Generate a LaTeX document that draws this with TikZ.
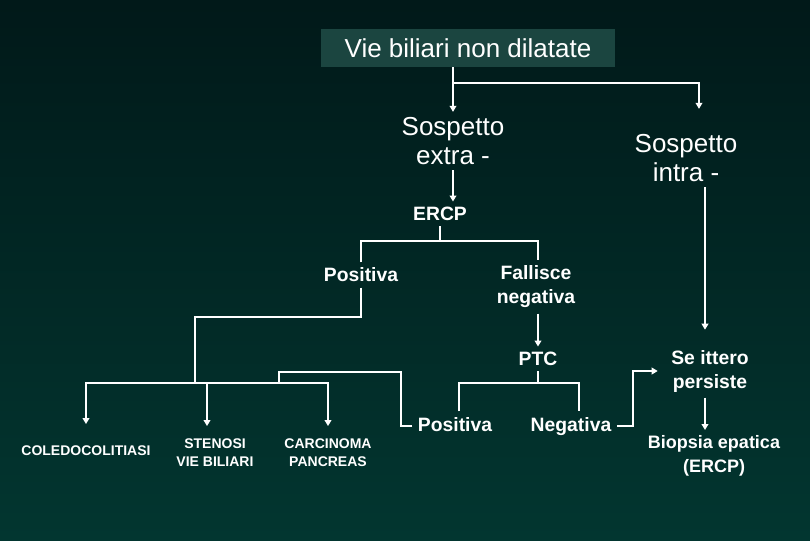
\documentclass[tikz,border=0pt]{standalone}
\usepackage{fontspec}
\setmainfont{Liberation Sans}
\usetikzlibrary{arrows.meta,calc,positioning}
\definecolor{bgtop}{RGB}{1,25,25}
\definecolor{bgbot}{RGB}{2,54,48}
\definecolor{boxfill}{RGB}{27,69,64}

\begin{document}
\begin{tikzpicture}[x=0.75pt,y=-0.75pt,
	every node/.style={text=white,align=center,inner sep=4pt},
	big/.style={font=\fontsize{19.5}{21.5}\selectfont},
	mid/.style={font=\bfseries\fontsize{14.5}{18}\selectfont},
	low/.style={font=\bfseries\fontsize{10.5}{13.5}\selectfont,minimum height=40pt},
	line/.style={draw=white,line width=1.5pt},
	arr/.style={line,-{Triangle[length=4.5pt,width=5pt]}}]
	\shade[top color=bgtop,bottom color=bgbot] (0,0) rectangle (810,540);
	\useasboundingbox (0,0) rectangle (810,540);
	\node[big,fill=boxfill,inner sep=0pt,minimum width=221pt,minimum height=28pt](vie) at (468,48) {Vie biliari non dilatate};
	\node[big](extra) at (453,141) {Sospetto\\extra -};
	\node[big](intra) at (686,158) {Sospetto\\intra -};
	\node[mid](ercp) at (440,214) {ERCP};
	\node[mid](pos1) at (361,275) {Positiva};
	\node[mid](fall) at (536,287) {Fallisce\\negativa};
	\node[mid](ptc) at (538,359) {PTC};
	\node[mid,text height=10.5pt,text depth=3pt](pos2) at (455,426) {Positiva};
	\node[mid,text height=10.5pt,text depth=3pt](neg) at (571,426) {Negativa};
	\node[mid](itt) at (710,371) {Se ittero\\persiste};
	\node[font=\bfseries\fontsize{13.5}{18}\selectfont](biop) at (714,456) {Biopsia epatica\\(ERCP)};
	\node[low](cole) at (86,451) {COLEDOCOLITIASI};
	\node[low](sten) at (215,453) {STENOSI\\VIE BILIARI};
	\node[low](carc) at (328,453) {CARCINOMA\\PANCREAS};
	\coordinate (b1) at (453,83);
	\coordinate (b2) at (440,241);
	\coordinate (b3) at (195,383);
	\coordinate (b4) at (279,383);
	\coordinate (b5) at (538,383);
	\coordinate (c1) at ($(intra.south)+(19,0)$);
	\draw[line] (vie.south -| b1) -- (b1);
	\draw[arr] (b1) -- (extra.north -| b1);
	\draw[arr] (b1) -| ($(intra.north)+(13,-20)$);
	\draw[arr] (extra.south -| b1) -- (ercp.north -| b1);
	\draw[line] (ercp.south) -- (b2);
	\draw[line] (pos1.north) |- (b2) -| (fall.north -| ptc);
	\draw[arr] (fall.south -| ptc) -- (ptc.north);
	\draw[line] (ptc.south) -- (b5);
	\draw[line] ($(pos2.north)+(4,0)$) |- (b5) -| ($(neg.north)+(8,0)$);
	\draw[line] (pos1.south) |- ($(b3)+(0,-66)$) -- (b3);
	\draw[arr] (b3) -| (cole.north);
	\draw[arr] (b3) -| (carc.north);
	\draw[arr] ($(sten.north |- b3)+(-8,0)$) -- ($(sten.north)+(-8,0)$);
	\draw[line] (pos2.west) -- ++(-11,0) |- ($(b4)+(0,-11)$) -- (b4);
	\draw[arr,shorten >=6pt] (neg.east) -- ++(16,0) |- (itt.west);
	\draw[arr,shorten >=11pt] (c1) -- (c1 |- itt.north);
	\draw[arr] (itt.south -| c1) -- (biop.north -| c1);
\end{tikzpicture}
\end{document}
